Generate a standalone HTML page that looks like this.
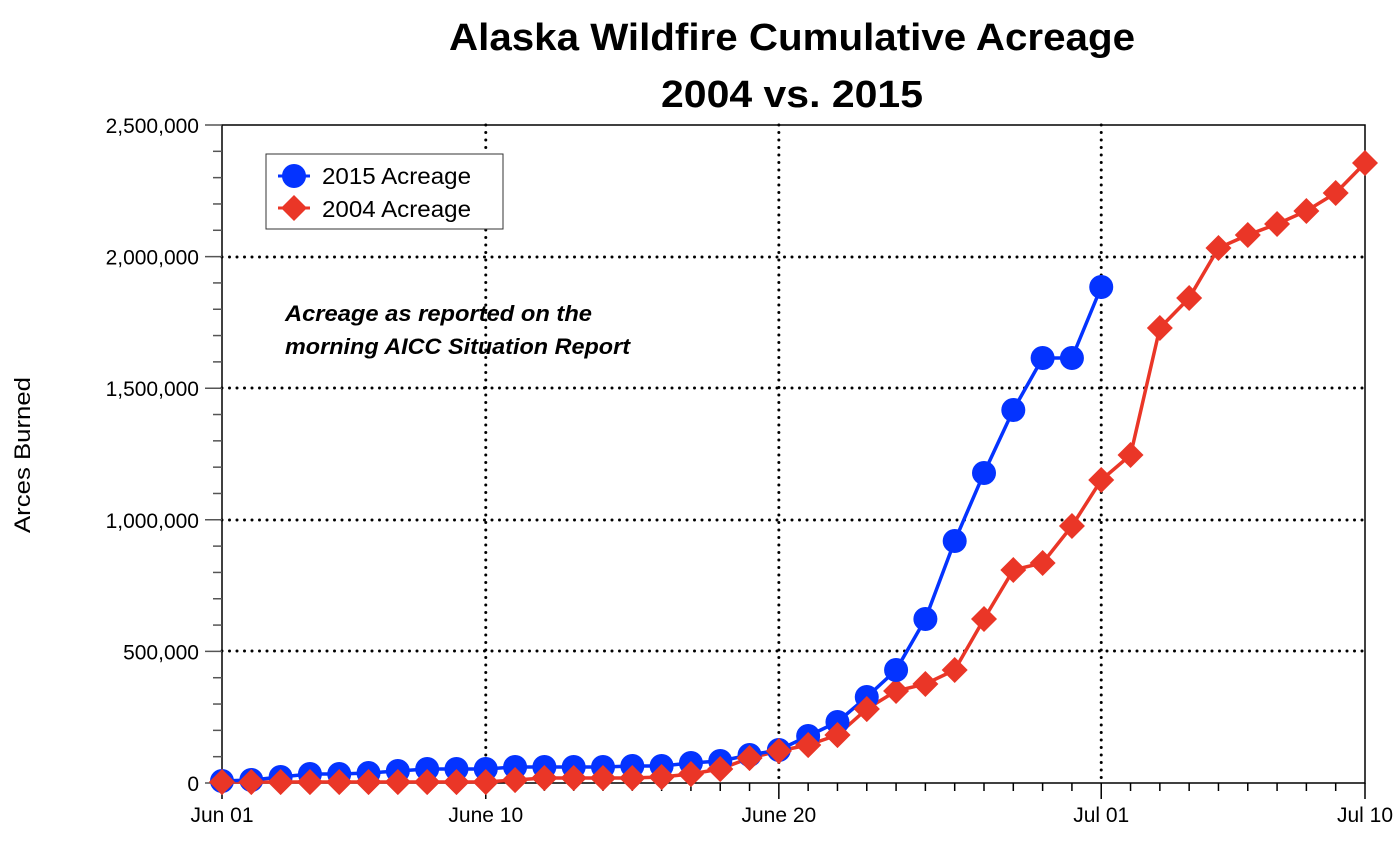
<!DOCTYPE html><html><head><style>body{margin:0;background:#fff}svg text{font-family:"Liberation Sans",sans-serif}</style></head><body>
<svg id="s" width="1400" height="840" xmlns="http://www.w3.org/2000/svg">
<text x="792" y="50" font-size="38" font-weight="bold" text-anchor="middle" textLength="686" lengthAdjust="spacingAndGlyphs">Alaska Wildfire Cumulative Acreage</text>
<text x="792" y="107" font-size="38" font-weight="bold" text-anchor="middle" textLength="262" lengthAdjust="spacingAndGlyphs">2004 vs. 2015</text>
<text transform="translate(30,455) rotate(-90)" font-size="22" text-anchor="middle" textLength="156" lengthAdjust="spacingAndGlyphs">Arces Burned</text>
<g id="g"></g>
<text x="285" y="321" font-size="22" font-weight="bold" font-style="italic" textLength="307" lengthAdjust="spacingAndGlyphs">Acreage as reported on the</text>
<text x="285" y="354" font-size="22" font-weight="bold" font-style="italic" textLength="345" lengthAdjust="spacingAndGlyphs">morning AICC Situation Report</text>
<rect x="266" y="154" width="237" height="75" fill="#fff" stroke="#333" stroke-width="1"/>
<line x1="278" y1="176" x2="310" y2="176" stroke="#0433ff" stroke-width="3"/><circle cx="294" cy="176" r="12" fill="#0433ff"/>
<text x="322" y="184" font-size="23" textLength="149" lengthAdjust="spacingAndGlyphs">2015 Acreage</text>
<line x1="278" y1="208" x2="310" y2="208" stroke="#ea3627" stroke-width="3"/><path d="M294 195 L307 208 L294 221 L281 208Z" fill="#ea3627"/>
<text x="322" y="217" font-size="23" textLength="149" lengthAdjust="spacingAndGlyphs">2004 Acreage</text>
</svg>
<script>
var g=document.getElementById('g'),h='';
function X(d){return 222+(d)*(1143/39);}
[257,388,520,651].forEach(function(y){h+='<line x1="222" y1="'+y+'" x2="1365" y2="'+y+'" stroke="#000" stroke-width="3" stroke-dasharray="0 7.5" stroke-linecap="round"/>';});
[9,19,30].forEach(function(d){var x=X(d);h+='<line x1="'+x+'" y1="125" x2="'+x+'" y2="783" stroke="#000" stroke-width="3" stroke-dasharray="0 7.5" stroke-linecap="round"/>';});
h+='<rect x="222" y="125" width="1143" height="658" fill="none" stroke="#000" stroke-width="1.5"/>';
for(var i=0;i<=25;i++){var y=783-i*658/25;h+='<line x1="'+(i%5?213:205)+'" y1="'+y+'" x2="222" y2="'+y+'" stroke="#555" stroke-width="1.5"/>';}
var labs=['0','500,000','1,000,000','1,500,000','2,000,000','2,500,000'];
for(var i=0;i<6;i++){h+='<text x="199" y="'+(791-i*131.6)+'" font-size="21" text-anchor="end">'+labs[i]+'</text>';}
for(var d=0;d<=39;d++){var x=X(d);h+='<line x1="'+x+'" y1="783" x2="'+x+'" y2="'+(d==0||d==9||d==19||d==30||d==39?799:791)+'" stroke="#000" stroke-width="1.5"/>';}
[[0,'Jun 01'],[9,'June 10'],[19,'June 20'],[30,'Jul 01'],[39,'Jul 10']].forEach(function(a){h+='<text x="'+X(a[0])+'" y="822" font-size="21" text-anchor="middle">'+a[1]+'</text>';});
var b=[781,780,777,774,774,773,771,769,769,769,767,767,767,767,766,766,763,761,755,750,736,722,697,670,619,541,473,410,358,358,287];
var r=[782,782,782,782,782,782,782,782,782,782,780,778,778,778,778,777,774,769,758,751,745,735,709,691,684,670,619,570,563,526,480,455,328,298,248,235,224,211,193,163];
function pl(a,c){return '<polyline fill="none" stroke="'+c+'" stroke-width="3.5" points="'+a.map(function(y,i){return X(i)+','+y}).join(' ')+'"/>';}
function dm(x,y){return '<path d="M'+x+' '+(y-13)+' L'+(x+13)+' '+y+' L'+x+' '+(y+13)+' L'+(x-13)+' '+y+'Z" fill="#ea3627"/>';}
h+=pl(r,'#ea3627');
r.forEach(function(y,i){h+=dm(X(i),y);});
h+=pl(b,'#0433ff');
b.forEach(function(y,i){h+='<circle cx="'+X(i)+'" cy="'+y+'" r="12" fill="#0433ff"/>';});
r.slice(0,23).forEach(function(y,i){h+=dm(X(i),y);});
g.innerHTML=h;
</script>
</body></html>
